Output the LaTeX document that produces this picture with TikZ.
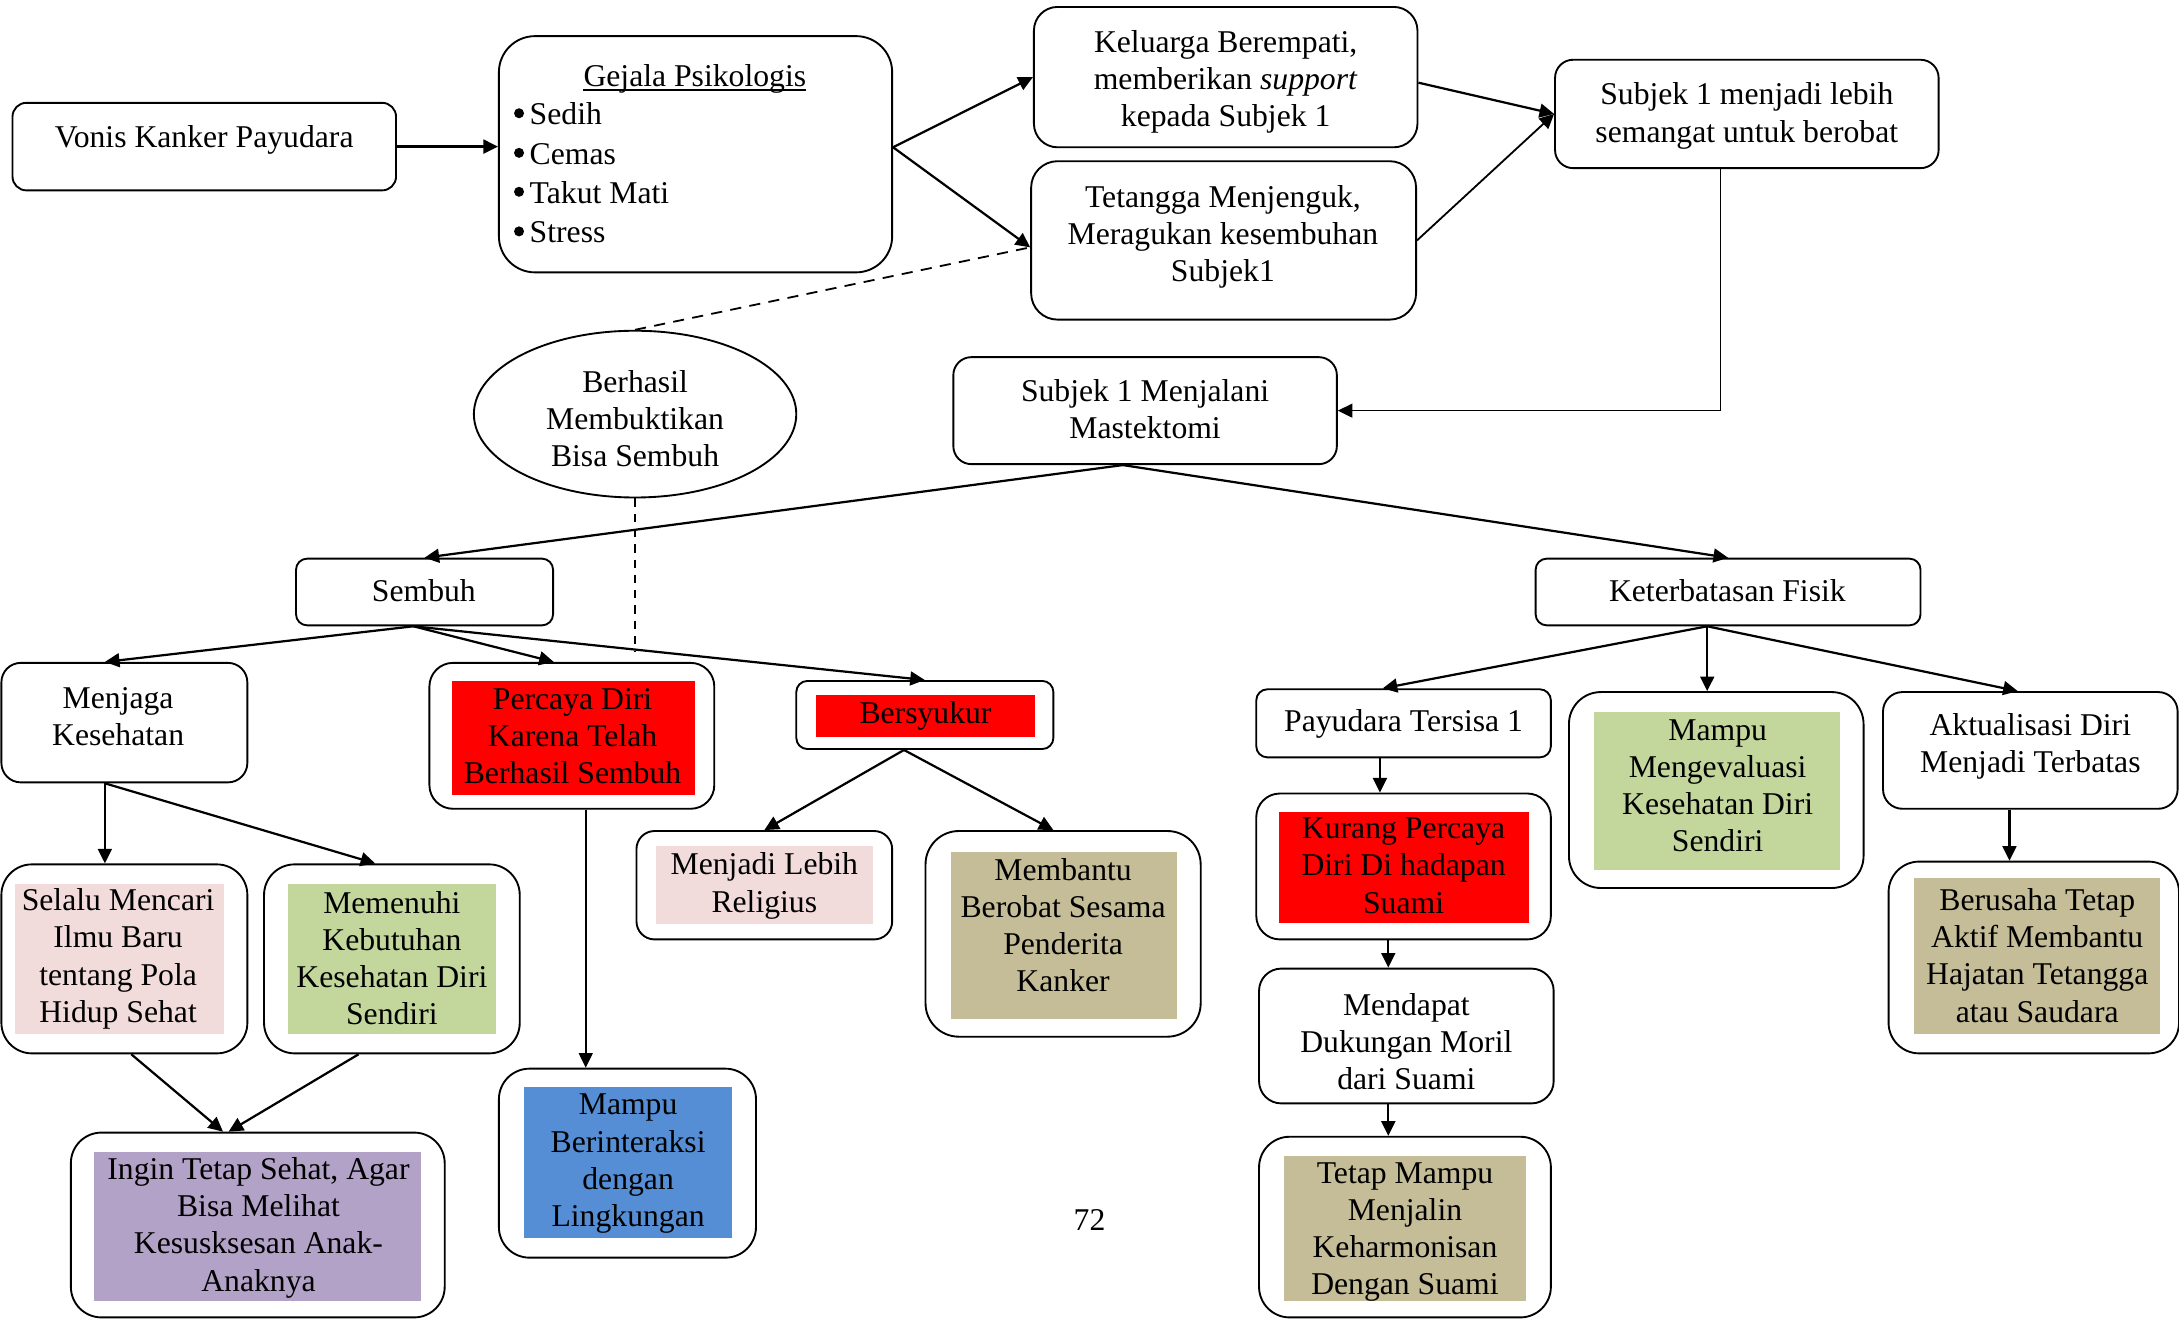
\documentclass[tikz,border=0pt]{standalone}
\usepackage{fontspec}
\setmainfont{Liberation Serif}
\usetikzlibrary{arrows.meta,shapes.geometric}
\definecolor{cred}{HTML}{FF0000}
\definecolor{cpink}{HTML}{F2DCDB}
\definecolor{cgreen}{HTML}{C3D69B}
\definecolor{ckhaki}{HTML}{C4BD97}
\definecolor{cblue}{HTML}{558ED5}
\definecolor{cpurple}{HTML}{B3A2C7}
\newcommand\myfs{\fontsize{22.8}{26.8}\selectfont}
\tikzset{
  rbox/.style={draw, line width=1.35pt, rounded corners=#1, inner sep=0pt},
  fillbox/.style={fill=#1, draw=none, inner sep=0pt},
  txt/.style={align=center, inner sep=0pt, font=\myfs},
  arr/.style={line width=1.6pt, -{Triangle[length=10.5pt,width=10pt]}},
  thinarr/.style={line width=1.2pt, -{Triangle[length=10.5pt,width=10pt]}},
  dashline/.style={line width=1.3pt, dash pattern=on 8pt off 6pt},
  bulletdot/.style={fill=black}
}
\begin{document}
\begin{tikzpicture}[x=1pt,y=-1pt]
\useasboundingbox[fill=white] (0,0) rectangle (1568,949);

% boxes
\node[rbox=10pt, minimum width=276pt, minimum height=63pt] (vonis) at (147,105.5) {};
\node[rbox=26pt, minimum width=283pt, minimum height=170pt] (gej) at (500.5,111) {};
\node[rbox=17pt, minimum width=276pt, minimum height=101pt] (kel) at (882,55.5) {};
\node[rbox=19pt, minimum width=277pt, minimum height=114pt] (tet) at (880.5,173) {};
\node[rbox=13pt, minimum width=276pt, minimum height=78pt] (sub) at (1257,82) {};
\node[draw, line width=1.35pt, ellipse, minimum width=232pt, minimum height=120pt, inner sep=0pt] (ell) at (457,298) {};
\node[rbox=13pt, minimum width=276pt, minimum height=77pt] (mas) at (824,295.5) {};
\node[rbox=8pt, minimum width=185pt, minimum height=48pt] (sem) at (305.5,426) {};
\node[rbox=8pt, minimum width=277pt, minimum height=48pt] (ket) at (1243.5,426) {};
\node[rbox=14pt, minimum width=177pt, minimum height=86pt] (menj) at (89.5,520) {};
\node[rbox=17pt, minimum width=205pt, minimum height=105pt] (perc) at (411.5,529.5) {};
\node[fillbox=cred, minimum width=175pt, minimum height=82pt] (percf) at (412.5,531) {};
\node[rbox=8pt, minimum width=185pt, minimum height=49pt] (syk) at (665.5,514.5) {};
\node[fillbox=cred, minimum width=158pt, minimum height=30pt] (sykf) at (666,515) {};
\node[rbox=8pt, minimum width=212pt, minimum height=49pt] (pay) at (1010,520.5) {};
\node[rbox=23pt, minimum width=212pt, minimum height=141pt] (eval) at (1235,568.5) {};
\node[fillbox=cgreen, minimum width=177pt, minimum height=114pt] (evalf) at (1235.5,569) {};
\node[rbox=14pt, minimum width=212pt, minimum height=84pt] (akt) at (1461,540) {};
\node[rbox=22pt, minimum width=177pt, minimum height=136pt] (sel) at (89.5,690) {};
\node[fillbox=cpink, minimum width=150pt, minimum height=108pt] (self) at (86,690) {};
\node[rbox=22pt, minimum width=184pt, minimum height=136pt] (mem) at (282,690) {};
\node[fillbox=cgreen, minimum width=150pt, minimum height=108pt] (memf) at (282,690) {};
\node[rbox=13pt, minimum width=184pt, minimum height=78pt] (rel) at (550,637) {};
\node[fillbox=cpink, minimum width=156pt, minimum height=56pt] (relf) at (550,637) {};
\node[rbox=24pt, minimum width=198pt, minimum height=148pt] (mbt) at (765,672) {};
\node[fillbox=ckhaki, minimum width=163pt, minimum height=120pt] (mbtf) at (765.5,673) {};
\node[rbox=17pt, minimum width=212pt, minimum height=105pt] (kur) at (1010,623.5) {};
\node[fillbox=cred, minimum width=180pt, minimum height=80pt] (kurf) at (1010,624) {};
\node[rbox=16pt, minimum width=212pt, minimum height=97pt] (mdp) at (1012,745.5) {};
\node[rbox=22pt, minimum width=210pt, minimum height=130pt] (ttp) at (1011,883) {};
\node[fillbox=ckhaki, minimum width=174pt, minimum height=104pt] (ttpf) at (1011,884) {};
\node[rbox=22pt, minimum width=209pt, minimum height=138pt] (bts) at (1463.5,689) {};
\node[fillbox=ckhaki, minimum width=177pt, minimum height=112pt] (btsf) at (1465.5,688) {};
\node[rbox=22pt, minimum width=185pt, minimum height=136pt] (bint) at (451.5,837) {};
\node[fillbox=cblue, minimum width=150pt, minimum height=109pt] (bintf) at (452,836.5) {};
\node[rbox=22pt, minimum width=269pt, minimum height=133pt] (ingin) at (185.5,881.5) {};
\node[fillbox=cpurple, minimum width=235pt, minimum height=107pt] (inginf) at (185.5,882.5) {};

% texts
\node[txt] (t-vonis) at (147,101) {Vonis Kanker Payudara};
\node[txt] (t-gej) at (500,57) {Gejala Psikologis};
\draw[line width=1.3pt] ([yshift=-2.6pt]t-gej.base west) -- ([yshift=-2.6pt]t-gej.base east);
\node[txt, align=left, anchor=west, font=\fontsize{22.8}{28.3}\selectfont] (t-list) at (381,124.5)
  {Sedih\\ Cemas\\ Takut Mati\\ Stress};
\foreach \yy in {81.5,110,138,166.5} \fill[bulletdot] (373.5,\yy) circle (3.6pt);
\node[txt] (t-kel) at (882,59) {Keluarga Berempati,\\ memberikan \textit{support}\\ kepada Subjek 1};
\node[txt] (t-tet) at (880,170.3) {Tetangga Menjenguk,\\ Meragukan kesembuhan\\ Subjek1};
\node[txt] (t-sub) at (1257,83.5) {Subjek 1 menjadi lebih\\ semangat untuk berobat};
\node[txt] (t-ell) at (457,301.3) {Berhasil\\ Membuktikan\\ Bisa Sembuh};
\node[txt] (t-mas) at (824,294.5) {Subjek 1 Menjalani\\ Mastektomi};
\node[txt] (t-sem) at (305,425) {Sembuh};
\node[txt] (t-ket) at (1243,425) {Keterbatasan Fisik};
\node[txt] (t-menj) at (85,515.5) {Menjaga\\ Kesehatan};
\node[txt] (t-perc) at (412,529.7) {Percaya Diri\\ Karena Telah\\ Berhasil Sembuh};
\node[txt] (t-syk) at (666,515) {Bersyukur};
\node[txt] (t-pay) at (1010,521) {Payudara Tersisa 1};
\node[txt] (t-eval) at (1236,565.5) {Mampu\\ Mengevaluasi\\ Kesehatan Diri\\ Sendiri};
\node[txt] (t-akt) at (1461,537) {Aktualisasi Diri\\ Menjadi Terbatas};
\node[txt] (t-sel) at (85,690) {Selalu Mencari\\ Ilmu Baru\\ tentang Pola\\ Hidup Sehat};
\node[txt] (t-mem) at (282,689.5) {Memenuhi\\ Kebutuhan\\ Kesehatan Diri\\ Sendiri};
\node[txt] (t-rel) at (550,637.5) {Menjadi Lebih\\ Religius};
\node[txt] (t-mbt) at (765,665.75) {Membantu\\ Berobat Sesama\\ Penderita\\ Kanker};
\node[txt] (t-kur) at (1010,623) {Kurang Percaya\\ Diri Di hadapan\\ Suami};
\node[txt] (t-mdp) at (1012,749.7) {Mendapat\\ Dukungan Moril\\ dari Suami};
\node[txt] (t-ttp) at (1011,886.5) {Tetap Mampu\\ Menjalin\\ Keharmonisan\\ Dengan Suami};
\node[txt] (t-bts) at (1466,687.5) {Berusaha Tetap\\ Aktif Membantu\\ Hajatan Tetangga\\ atau Saudara};
\node[txt] (t-bint) at (452,837.5) {Mampu\\ Berinteraksi\\ dengan\\ Lingkungan};
\node[txt] (t-ingin) at (186,883.5) {Ingin Tetap Sehat, Agar\\ Bisa Melihat\\ Kesusksesan Anak-\\ Anaknya};
\node[txt] (page) at (784,878) {72};

% helper coordinates
\coordinate (gejR) at ([yshift=5pt]gej.east);
\coordinate (tetL) at ([yshift=-5pt]tet.west);
\coordinate (kelR) at ([yshift=-4pt]kel.east);
\coordinate (subB) at ([xshift=-19pt]sub.south);
\coordinate (masB) at ([xshift=-16pt]mas.south);
\coordinate (semB) at ([xshift=-8pt]sem.south);
\coordinate (menjT) at ([xshift=-14pt]menj.north);
\coordinate (percT) at ([xshift=-13pt]perc.north);
\coordinate (menjB) at ([xshift=-14pt]menj.south);
\coordinate (memT) at ([xshift=-12pt]mem.north);
\coordinate (selB) at ([xshift=5pt]sel.south);
\coordinate (memB) at ([xshift=-24pt]mem.south);
\coordinate (inginT1) at ([xshift=-25pt]ingin.north);
\coordinate (inginT2) at ([xshift=-21pt]ingin.north);
\coordinate (percB) at ([xshift=10pt]perc.south);
\coordinate (sykB) at ([xshift=-15pt]syk.south);
\coordinate (mbtT) at ([xshift=-7pt]mbt.north);
\coordinate (ketB) at ([xshift=-15pt]ket.south);
\coordinate (payT) at ([xshift=-15pt]pay.north);
\coordinate (aktT) at ([xshift=-9pt]akt.north);
\coordinate (payB) at ([xshift=-17pt]pay.south);
\coordinate (kurB) at ([xshift=-11pt]kur.south);
\coordinate (mdpB) at ([xshift=-13pt]mdp.south);
\coordinate (aktB) at ([xshift=-15pt]akt.south);
\coordinate (dend) at (457,469);

% connectors
\draw[arr, line width=1.9pt] (vonis.east) -- (vonis.east -| gej.west);
\draw[arr] (gejR) -- (kel.west);
\draw[arr] (gejR) -- (tetL);
\draw[arr] (kelR) -- (sub.west);
\draw[thinarr, line width=1.3pt] (tet.east) -- (sub.west);
\draw[thinarr] (subB) |- (mas.east);
\draw[dashline] (ell.north) -- (tetL);
\draw[line width=1.1pt, dash pattern=on 6pt off 5pt] (ell.south) -- (dend);
\draw[arr] (masB) -- (sem.north);
\draw[arr] (masB) -- (ket.north);
\draw[arr] (semB) -- (menjT);
\draw[arr] (semB) -- (percT);
\draw[arr] (semB) -- (syk.north);
\draw[arr] (menjB) -- (menjB |- sel.north);
\draw[arr] (menjB) -- (memT);
\draw[arr] (selB) -- (inginT1);
\draw[arr] (memB) -- (inginT2);
\draw[thinarr] (percB) -- (percB |- bint.north);
\draw[arr] (sykB) -- (rel.north);
\draw[arr] (sykB) -- (mbtT);
\draw[arr] (ketB) -- (payT);
\draw[arr] (ketB) -- (ketB |- eval.north);
\draw[arr] (ketB) -- (aktT);
\draw[arr] (payB) -- (payB |- kur.north);
\draw[arr] (kurB) -- (kurB |- mdp.north);
\draw[arr] (mdpB) -- (mdpB |- ttp.north);
\draw[arr] (aktB) -- (aktB |- bts.north);
\end{tikzpicture}
\end{document}
